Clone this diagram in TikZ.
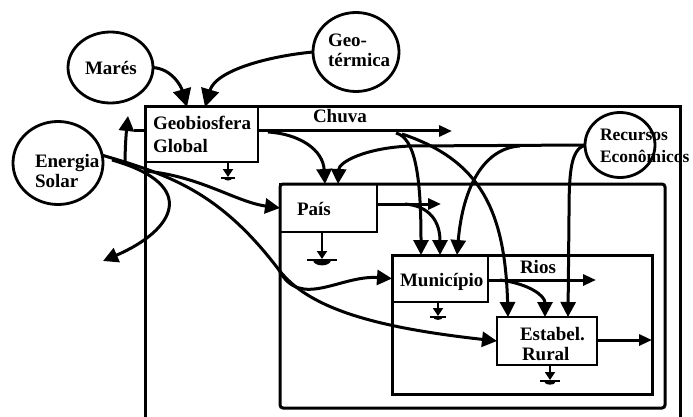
\documentclass[tikz,border=0pt]{standalone}
\usepackage{fontspec}
\setmainfont{Liberation Serif}
\usetikzlibrary{arrows.meta,shapes.geometric,calc}
\newcommand{\heatsink}[4]{%
  \draw[line width=1.8pt,-{Triangle[length=8pt,width=10pt]}] (#1,#2) -- (#1,{#2+#3});
  \draw[line width=2.4pt] ({#1-#4/2},{#2+#3+1}) -- ({#1+#4/2},{#2+#3+1});
  \fill ({#1-0.3*#4},{#2+#3+1}) arc[start angle=180,end angle=360,x radius={0.3*#4},y radius={-0.18*#4}] -- cycle;
}
\begin{document}
\begin{tikzpicture}[x=1pt,y=-1pt,
  every node/.style={inner sep=0pt,outer sep=0pt},
  lbl/.style={font=\bfseries\fontsize{19}{21}\selectfont,anchor=base west},
  lblsm/.style={font=\bfseries\fontsize{17.5}{20}\selectfont,anchor=base west},
  box/.style={draw,line width=2.8pt,anchor=north west},
  circ/.style={draw,ellipse,line width=2.8pt},
  conn/.style={line width=3pt},
  arr/.style={conn,-{Triangle[length=15pt,width=15pt]}},
  bigarr/.style={conn,-{Triangle[length=18pt,width=18pt]}},
  smallarr/.style={conn,-{Triangle[length=13pt,width=11pt]}},
  enclosure/.style={line width=3pt}]
\useasboundingbox (0,0) rectangle (693,417);
\clip (0,0) rectangle (693,417);
\fill[white] (0,0) rectangle (693,417);

% enclosing frames
\draw[enclosure] (145,430) -- (145,107) -- (680,107) -- (680,430);
\draw[enclosure,rounded corners=3pt] (280,184) rectangle (665,408);
\draw[enclosure] (392,255) rectangle (652,394);

% boxes
\node[box,minimum width=113pt,minimum height=55pt] (geob) at (145,107) {};
\node[box,minimum width=97pt,minimum height=48pt] (pais) at (280,184) {};
\node[box,minimum width=96pt,minimum height=47pt] (mun) at (392,255) {};
\node[box,minimum width=100pt,minimum height=48pt] (estab) at (497,317) {};

% sources
\node[circ,minimum width=85pt,minimum height=71pt] (mares) at (110.5,67.5) {};
\node[circ,minimum width=86pt,minimum height=79pt] (geot) at (356,52) {};
\node[circ,minimum width=90pt,minimum height=83pt] (energia) at (58,163) {};
\node[circ,minimum width=70pt,minimum height=65pt] (rec) at (620,145) {};

% labels
\node[lbl] (tMares) at (85,75) {Marés};
\node[lbl] (tGeo1) at (328,47) {Geo-};
\node[lbl] (tGeo2) at (328,67) {térmica};
\node[lbl] (tEn1) at (35,167) {Energia};
\node[lbl] (tEn2) at (35,187) {Solar};
\node[lblsm] (tRec1) at (600,140) {Recursos};
\node[lblsm] (tRec2) at (600,162) {Econômicos};
\node[lbl] (tGeob1) at (153,130) {Geobiosfera};
\node[lbl] (tGeob2) at (153,153) {Global};
\node[lbl] (tChuva) at (313,123) {Chuva};
\node[lbl] (tPais) at (297,215) {País};
\node[lbl] (tMun) at (400,286) {Município};
\node[lbl] (tRios) at (520,273) {Rios};
\node[lbl] (tEst1) at (520,340) {Estabel.};
\node[lbl] (tEst2) at (522,360) {Rural};

% coordinates
\coordinate (cw) at (452,131);
\coordinate (g1) at (268,132);
\coordinate (g2) at (396,133);
\coordinate (g3) at (402,134);
\coordinate (r1) at (410,146);
\coordinate (r2) at (520,146);
\coordinate (rv) at (569,215);
\coordinate (pe) at (441,204);
\coordinate (p1) at (405,204);
\coordinate (me) at (596,280);
\coordinate (m1) at (500,280);
\coordinate (ee) at (652,340);
\coordinate (S) at (279,270);
\coordinate (e1) at (145,171);
\coordinate (e2) at (125,165);
\coordinate (e3) at (112,160);
\coordinate (gl) at (134,131);
\coordinate (gt) at (128,116);
\coordinate (out) at (103,261);

% external sources into Geobiosfera
\draw[bigarr] (mares.east) .. controls (172,69) and (181,86) .. ($(geob.north west)+(42,0)$);
\draw[bigarr] (geot.west) .. controls (270,56) and (216,70) .. ($(geob.north west)+(60,0)$);

% Geobiosfera outputs
\draw[smallarr] (geob.east |- cw) -- (cw);
\draw[arr] (g1) .. controls (300,134) and (323,150) .. ($(pais.north west)+(45,0)$);
\draw[arr] (g2) .. controls (415,138) and (421,175) .. ($(mun.north west)+(29,0)$);
\draw[arr] (g3) .. controls (480,160) and (505,210) .. ($(estab.north west)+(11,0)$);

% Recursos Economicos
\draw[arr] (rec.west) -- (r1) .. controls (365,148) and (339,162) .. ($(pais.north west)+(58,0)$);
\draw[arr] (r2) .. controls (485,148) and (463,185) .. ($(mun.north west)+(65,0)$);
\draw[arr] (rec.west) .. controls (571,150) and (569,170) .. (rv) -- ($(estab.north west)+(71,0)$);

% Pais
\draw[smallarr] (pais.east |- pe) -- (pe);
\draw[arr] (p1) .. controls (430,206) and (440,222) .. ($(mun.north west)+(48,0)$);

% Municipio
\draw[smallarr] (mun.east |- me) -- (me);
\draw[arr] (m1) .. controls (530,284) and (545,296) .. ($(estab.north west)+(48,0)$);

% Estabelecimento rural
\draw[smallarr] (estab.east |- ee) -- (ee);

% Energia solar
\draw[conn] (energia.10) .. controls (170,175) and (220,192) .. (S);
\draw[arr] (S) .. controls (300,310) and (340,275) .. (mun.west);
\draw[arr] (S) .. controls (310,310) and (380,328) .. (estab.west);
\draw[arr] (e1) .. controls (200,176) and (236,202) .. (pais.west);
\draw[arr] (e2) .. controls (125,150) and (126,135) .. (gt);
\draw[conn] (gl) -- (geob.west |- gl);
\draw[arr] (e3) .. controls (200,185) and (175,230) .. (out);

% heat sinks
\heatsink{228}{162}{15}{14}
\heatsink{322}{232}{27}{30}
\heatsink{438}{302}{14}{16}
\heatsink{550}{365}{15}{20}
\end{tikzpicture}
\end{document}
